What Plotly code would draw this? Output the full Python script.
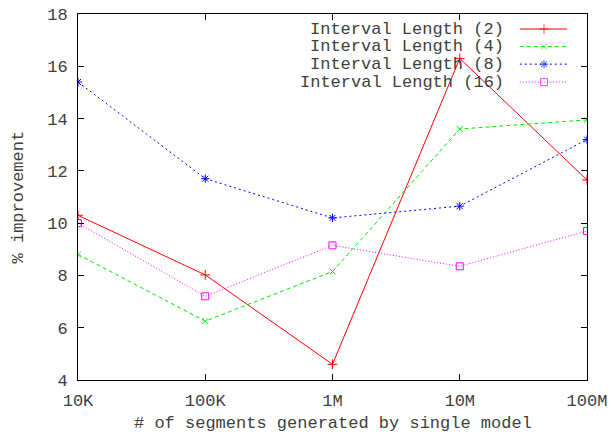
import plotly.graph_objects as go

# Number of segments generated by a single model
segments = [1e4, 1e5, 1e6, 1e7, 1e8]
tick_text = ["10K", "100K", "1M", "10M", "100M"]

# % improvement per interval length
len2 = [10.3, 8.02, 4.6, 16.3, 11.65]
len4 = [8.8, 6.25, 8.15, 13.6, 13.95]
len8 = [15.4, 11.7, 10.2, 10.65, 13.2]
len16 = [10.0, 7.2, 9.15, 8.35, 9.7]

series_names = ["Interval Length (2)", "Interval Length (4)",
                "Interval Length (8)", "Interval Length (16)"]
series_values = [len2, len4, len8, len16]

FONT = "Liberation Mono, Courier New, monospace"
TEXT = "#404040"
styles = [
    dict(color="#ff0000", dash="solid", symbol="cross-thin", size=7),
    dict(color="#00ee00", dash="4px,3px", symbol="x-thin", size=6),
    dict(color="#0000ff", dash="2px,3px", symbol="asterisk", size=7),
    dict(color="#ff00ff", dash="1px,2px", symbol="square-open", size=7),
]

fig = go.Figure()
for name, vals, st in zip(series_names, series_values, styles):
    fig.add_trace(go.Scatter(
        x=segments, y=vals, name=name, mode="lines+markers",
        line=dict(color=st["color"], width=1, dash=st["dash"]),
        marker=dict(symbol=st["symbol"], size=st["size"], color=st["color"],
                    line=dict(color=st["color"], width=1)),
        showlegend=False,
    ))

# Key drawn gnuplot-style: right-aligned label, sample on the right
key_rows = [0.959, 0.911, 0.863, 0.814]
for name, st, ky in zip(series_names, styles, key_rows):
    fig.add_trace(go.Scatter(
        x=[0.868, 0.9155, 0.961], y=[ky, ky, ky], mode="lines+markers",
        xaxis="x2", yaxis="y2", showlegend=False, hoverinfo="skip",
        line=dict(color=st["color"], width=1, dash=st["dash"]),
        marker=dict(symbol=st["symbol"], size=[0, st["size"], 0], color=st["color"],
                    line=dict(color=st["color"], width=1)),
    ))
    fig.add_annotation(x=0.841, y=ky, xref="x2", yref="y2", text=name,
                       showarrow=False, xanchor="right", yanchor="middle",
                       font=dict(family=FONT, size=17, color=TEXT))

axis_common = dict(showline=True, linecolor="black", linewidth=1, mirror="ticks",
                   ticks="inside", ticklen=6, tickcolor="black", showgrid=False,
                   zeroline=False, automargin=False,
                   tickfont=dict(family=FONT, size=17, color=TEXT))

fig.update_layout(
    width=611, height=434,
    margin=dict(l=78, r=24, t=14, b=54),
    paper_bgcolor="white", plot_bgcolor="white",
    xaxis=dict(type="log", range=[4, 8], tickvals=segments, ticktext=tick_text,
               ticklabelstandoff=5, **axis_common),
    yaxis=dict(range=[4, 18], tickvals=[4, 6, 8, 10, 12, 14, 16, 18],
               ticklabelstandoff=6, **axis_common),
    xaxis2=dict(range=[0, 1], overlaying="x", visible=False),
    yaxis2=dict(range=[0, 1], overlaying="y", visible=False),
)

fig.add_annotation(text="# of segments generated by single model", xref="paper",
                   yref="paper", x=0.5, y=-0.12, showarrow=False, yanchor="middle",
                   font=dict(family=FONT, size=17, color=TEXT))
fig.add_annotation(text="% improvement", xref="paper", yref="paper", x=-0.117,
                   y=0.5, showarrow=False, textangle=-90, xanchor="center",
                   font=dict(family=FONT, size=17, color=TEXT))

fig.write_html("out.html")
